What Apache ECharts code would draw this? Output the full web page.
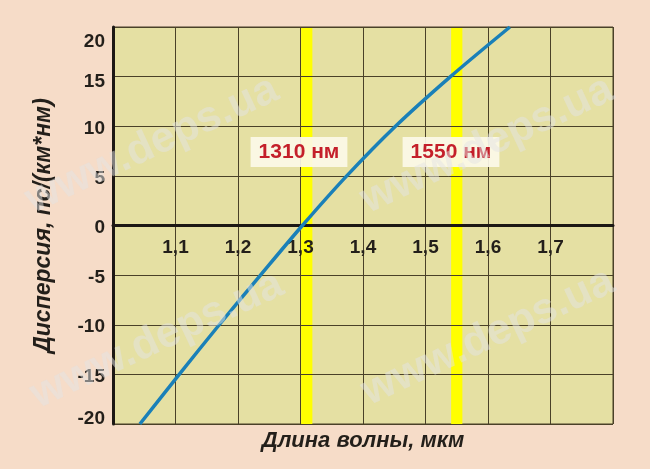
<!DOCTYPE html>
<html><head><meta charset="utf-8">
<script src="https://cdn.jsdelivr.net/npm/echarts@6/dist/echarts.min.js"></script>
<style>html,body{margin:0;padding:0;background:#f6dcc8}#c{width:650px;height:469px}</style>
</head><body><div id="c"></div>
<script>
// Data
const wavelengthUm = [1.043, 1.106, 1.170, 1.236, 1.303, 1.374, 1.452, 1.540, 1.635];
const dispersionPs = [-20, -15, -10, -5, 0, 5, 10, 15, 20];
const bandRanges = [[1.301, 1.319], [1.541, 1.559]];
const bandLabels = ['1310 нм', '1550 нм'];
const bandLabelX = [1.2976, 1.5408];
const bandLabelY = [7.4, 7.4];
const xTitle = 'Длина волны, мкм';
const yTitle = 'Дисперсия, пс/(км*нм)';
const watermark = 'www.deps.ua';

const FONT = '"Liberation Sans", Arial, sans-serif';
const GRIDC = '#4a4128';
const TOP = 27, BOTTOM = 45, H = 469;
const zeroOffset = -(H - TOP - BOTTOM) / 2; // axis moved to y = 0 (middle of symmetric range)

const chart = echarts.init(document.getElementById('c'));
const wmPos = [[152,145],[487,145],[157,340],[488,337]];
chart.setOption({
  backgroundColor: '#f6dcc8',
  animation: false,
  grid: {left:113, right:37, top:TOP, bottom:BOTTOM, show:true, backgroundColor:'#e5e0a3', borderColor:GRIDC, borderWidth:1},
  xAxis: [{
    type:'value', min:1.0, max:1.8, interval:0.1, z:2, position:'bottom', offset:zeroOffset,
    axisLine:{show:true, onZero:false, lineStyle:{color:'#1c1814', width:3}},
    axisTick:{show:false},
    splitLine:{show:true, lineStyle:{color:GRIDC, width:1}},
    axisLabel:{margin:13, fontFamily:FONT, fontSize:19, fontWeight:'bold', color:'#231f1a',
      formatter: v => (v > 1.05 && v < 1.75) ? v.toFixed(1).replace('.', ',') : ''}
  },{
    type:'value', min:1.0, max:1.8, position:'bottom', show:true,
    axisLine:{show:false, onZero:false}, axisTick:{show:false}, axisLabel:{show:false}, splitLine:{show:false},
    name:xTitle, nameLocation:'middle', nameGap:6,
    nameTextStyle:{fontFamily:FONT, fontSize:22, fontWeight:'bold', fontStyle:'italic', color:'#231f1a', verticalAlign:'top'}
  }],
  yAxis: {
    type:'value', min:-20, max:20, interval:5, z:2,
    axisLine:{show:true, onZero:false, lineStyle:{color:'#1c1814', width:3}},
    axisTick:{show:false},
    splitLine:{show:true, lineStyle:{color:GRIDC, width:1}},
    axisLabel:{margin:8, fontFamily:FONT, fontSize:19, fontWeight:'bold', color:'#231f1a',
      formatter: v => v === 20 ? '{top|20}' : (v === -20 ? '{bot|-20}' : (v === 15 ? '{t2|15}' : '{n|' + v + '}')),
      rich:{
        n:{fontFamily:FONT, fontSize:19, fontWeight:'bold', color:'#231f1a', padding:[5,0,0,0]},
        t2:{fontFamily:FONT, fontSize:19, fontWeight:'bold', color:'#231f1a', padding:[11,0,0,0]},
        top:{fontFamily:FONT, fontSize:19, fontWeight:'bold', color:'#231f1a', padding:[30,0,0,0]},
        bot:{fontFamily:FONT, fontSize:19, fontWeight:'bold', color:'#231f1a', padding:[0,0,10,0]}
      }},
    name:yTitle, nameLocation:'middle', nameGap:58, nameRotate:90,
    nameTextStyle:{fontFamily:FONT, fontSize:23, fontWeight:'bold', fontStyle:'italic', color:'#231f1a'}
  },
  series: [{
    type:'line', data:[], z:1,
    markArea:{silent:true, itemStyle:{color:'#ffff00'},
      data: bandRanges.map(r => [{xAxis:r[0]}, {xAxis:r[1]}])},
    markPoint:{silent:true, symbol:'rect', symbolSize:1, itemStyle:{color:'rgba(0,0,0,0)'},
      label:{show:true, position:'inside', formatter: p => p.name, fontFamily:FONT, fontSize:21, fontWeight:'bold',
        color:'#c41f2a', backgroundColor:'rgba(252,248,232,0.92)', padding:[4,8,4,8], lineHeight:22},
      data: bandLabels.map((t, i) => ({name:t, coord:[bandLabelX[i], bandLabelY[i]]}))}
  },{
    type:'line', z:3, smooth:0.3, symbol:'none',
    data: wavelengthUm.map((x, i) => [x, dispersionPs[i]]),
    lineStyle:{color:'#1a80b8', width:3.5}
  }],
  graphic: wmPos.map(p => ({type:'text', x:p[0], y:p[1], rotation:25*Math.PI/180, z:100, silent:true,
    style:{text:watermark, fill:'rgba(228,228,228,0.5)', font:'bold 43px ' + FONT, align:'center', verticalAlign:'middle'}}))
});
</script></body></html>
